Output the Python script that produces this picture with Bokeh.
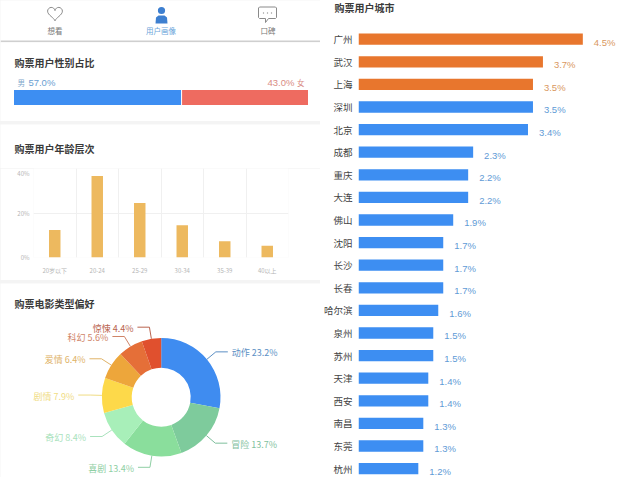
import math
from bokeh.embed import file_html
from bokeh.layouts import column, row
from bokeh.models import FixedTicker, Range1d
from bokeh.plotting import figure
from bokeh.resources import INLINE

# ---- data
tabs = ["想看", "用户画像", "口碑"]
gender_labels = ["男", "女"]
gender_values = [57.0, 43.0]
age_labels = ["20岁以下", "20-24", "25-29", "30-34", "35-39", "40以上"]
age_values = [12.4, 36.6, 24.5, 14.5, 7.3, 5.3]
genres = ["动作", "冒险", "喜剧", "奇幻", "剧情", "爱情", "科幻", "惊悚"]
genre_values = [23.2, 13.7, 13.4, 8.4, 7.9, 6.4, 5.6, 4.4]
cities = ["广州", "武汉", "上海", "深圳", "北京", "成都", "重庆", "大连", "佛山", "沈阳",
          "长沙", "长春", "哈尔滨", "泉州", "苏州", "天津", "西安", "南昌", "东莞", "杭州"]
city_values = [4.5, 3.7, 3.5, 3.5, 3.4, 2.3, 2.2, 2.2, 1.9, 1.7,
               1.7, 1.7, 1.6, 1.5, 1.5, 1.4, 1.4, 1.3, 1.3, 1.2]

# ---- style
FONT = "Noto Sans CJK SC"
NUM = "Liberation Sans"
BLUE = "#3d8ef2"
RED = "#ee6b60"
ORANGE = "#e8762d"
GOLD = "#edb95f"
TITLE = "#3a3a3a"
genre_colors = ["#3f8cf0", "#7ecb9c", "#8ade9c", "#a8efb9", "#fdd94a", "#eda63b", "#e56f38", "#e0502e"]
genre_text = ["#5b8fc4", "#7fbf9d", "#8fcfa4", "#a9e2bd", "#f0dc84", "#e0b368", "#cf8468", "#b9644f"]

def base(w, h, xr, yr, **kw):
    p = figure(width=w, height=h, x_range=xr, y_range=yr, output_backend="svg",
               toolbar_location=None, tools="", outline_line_color=None,
               background_fill_color="white", border_fill_color="white", **kw)
    p.min_border_left = p.min_border_right = p.min_border_top = p.min_border_bottom = 0
    return p

def bare(w, h, xr, yr):
    p = base(w, h, xr, yr, x_axis_location=None, y_axis_location=None)
    p.grid.visible = False
    return p

def note(p, x, y, text, size, color, align="left", weight="normal", font=FONT):
    p.text([x], [y], text=[text], text_font_size=size, text_color=color, text_align=align,
           text_baseline="middle", text_font={"value": font}, text_font_style=weight)

def header(w, h, x, y, text):
    p = bare(w, h, Range1d(0, w), Range1d(h, 0))
    note(p, x, y, text, "10px", TITLE, weight="bold")
    return p

def plain_axis(ax, color, size, standoff):
    ax.axis_line_color = None
    ax.major_tick_line_color = None
    ax.minor_tick_line_color = None
    ax.major_tick_out = 0
    ax.major_tick_in = 0
    ax.minor_tick_out = 0
    ax.minor_tick_in = 0
    ax.major_label_text_color = color
    ax.major_label_text_font_size = size
    ax.major_label_text_font = FONT
    ax.major_label_standoff = standoff

# ---- tabs (frame in page pixels, y down)
t = bare(320, 42, Range1d(0, 320), Range1d(42, 0))
angles = [i * math.pi / 20 for i in range(41)]
hx = [54.5 + 7.4 * (math.sin(a) ** 3) for a in angles]
hy = [12.5 - 0.47 * (13 * math.cos(a) - 5 * math.cos(2 * a) - 2 * math.cos(3 * a) - math.cos(4 * a))
      for a in angles]
t.line(hx, hy, line_color="#8a8a8a", line_width=1)
t.circle([161], [10], radius=3.6, fill_color="#3d7fd0", line_color=None)
t.patch([155, 155.5, 158, 164, 166.5, 167, 167, 155], [23, 17, 15, 15, 17, 23, 23, 23],
        fill_color="#3d7fd0", line_color=None)
t.patch([259, 275, 276, 276, 275, 268, 265, 265, 259, 258, 258],
        [6.5, 6.5, 7.5, 17, 18, 18, 22, 18, 18, 17, 7.5],
        fill_color="white", line_color="#8a8a8a", line_width=1)
t.scatter([263, 267, 271], [12.5] * 3, size=1.4, fill_color="#999999", line_color=None)
for x, s, c in zip([54.5, 160.5, 267.5], tabs, ["#777777", "#6aa5da", "#777777"]):
    note(t, x, 29.5, s, "7.5px", c, align="center")
t.quad(left=[0], right=[320], top=[40], bottom=[41.5], fill_color="#cfcfcf", line_color=None)

# ---- gender
G0, GW = 13.5, 294.0
g = bare(320, 79, Range1d(-G0 / GW * 100, (320 - G0) / GW * 100), Range1d(121, 42))
g.hbar(y=[97], left=[0], right=[gender_values[0]], height=15, fill_color=BLUE, line_color=None)
g.hbar(y=[97], left=[gender_values[0]], right=[100], height=15, fill_color=RED, line_color=None)
g.segment([gender_values[0]], [89.5], [gender_values[0]], [104.5], line_color="white", line_width=1)
note(g, 0.2, 62, "购票用户性别占比", "10px", TITLE, weight="bold")
note(g, 1.2, 82, gender_labels[0], "7.5px", "#7fa8cc")
note(g, 4.9, 82, f"{gender_values[0]:.1f}%", "9.5px", "#6aa0d2", font=NUM)
note(g, 95.4, 82, f"{gender_values[1]:.1f}%", "9.5px", "#d98c84", align="right", font=NUM)
note(g, 98.8, 82, gender_labels[1], "7.5px", "#d98c84", align="right")

# ---- age columns
ah = header(320, 44, 14, 24, "购票用户年龄层次")
a = base(320, 112, Range1d(0, len(age_values)), Range1d(0, 40))
a.min_border_left = 33
a.min_border_right = 32
a.min_border_bottom = 23
a.vbar(x=[i + 0.5 for i in range(len(age_values))], top=age_values, width=0.27,
       fill_color=GOLD, line_color=None)
a.xaxis.ticker = FixedTicker(ticks=[i + 0.5 for i in range(len(age_labels))])
a.xaxis.major_label_overrides = {i + 0.5: s for i, s in enumerate(age_labels)}
a.yaxis.ticker = FixedTicker(ticks=[0, 20, 40])
a.yaxis.major_label_overrides = {0: "0%", 20: "20%", 40: "40%"}
plain_axis(a.xaxis[0], "#b5b5b5", "6px", 8)
plain_axis(a.yaxis[0], "#b5b5b5", "6px", 4)
a.xgrid.ticker = FixedTicker(ticks=list(range(len(age_values) + 1)))
a.xgrid.grid_line_color = "#f0f0f0"
a.ygrid.grid_line_color = "#f0f0f0"

# ---- genre donut (centred on the ring, 1 unit = 1 px)
CX, CY = 160.7, 396.7
R0, R1, RL = 29.5, 59.3, 71.0
d = bare(320, 194, Range1d(-CX, 320 - CX), Range1d(CY - 477, CY - 283))
total = sum(genre_values)
ang = math.pi / 2
for v, c, tc, name in zip(genre_values, genre_colors, genre_text, genres):
    end = ang - v / total * 2 * math.pi
    d.annular_wedge(x=[0], y=[0], inner_radius=R0, outer_radius=R1, start_angle=ang, end_angle=end,
                    direction="clock", fill_color=c, line_color=None)
    mid = (ang + end) / 2
    cx, sy = math.cos(mid), math.sin(mid)
    ex, ey = RL * cx, RL * sy
    side = 1 if cx > 0 else -1
    tail = 12
    d.line([R1 * cx, ex, ex + side * tail], [R1 * sy, ey, ey], line_color=tc, line_width=1)
    note(d, ex + side * (tail + 4), ey - 1, f"{name} {v:.1f}%", "9px", tc,
         align="left" if side > 0 else "right")
    ang = end
note(d, 14 - CX, CY - 303, "购票电影类型偏好", "10px", TITLE, weight="bold")

# ---- cities
SCALE = 49.85
Y0, STEP = 38.7, 22.6
TOP = 20
ch = header(320, TOP, 14, 7, "购票用户城市")
c = base(320, 477 - TOP, Range1d(0, (640 - 358) / SCALE), Range1d((477 - Y0) / STEP, (TOP - Y0) / STEP))
c.min_border_left = 38
idx = list(range(len(cities)))
c.hbar(y=idx, left=0, right=city_values, height=0.5,
       fill_color=[ORANGE if i < 3 else BLUE for i in idx], line_color=None)
c.text(x=[v + 0.22 for v in city_values], y=[i + 0.13 for i in idx],
       text=[f"{v:.1f}%" for v in city_values], text_font_size="9.5px",
       text_color=["#d9985f" if i < 3 else "#5f9bd6" for i in idx],
       text_align="left", text_baseline="middle", text_font={"value": NUM})
c.grid.visible = False
c.xaxis.visible = False
yx = c.yaxis[0]
yx.ticker = FixedTicker(ticks=idx)
yx.major_label_overrides = {i: s for i, s in zip(idx, cities)}
plain_axis(yx, "#444444", "9.5px", 6)

left = column(column(t, g, spacing=0), column(row(ah), a, spacing=0), d, spacing=3,
              styles={"background": "#f4f4f4"})
right = column(row(ch), c, spacing=0)
page = row(left, right, spacing=0)
open("out.html", "w").write(file_html(page, INLINE))
